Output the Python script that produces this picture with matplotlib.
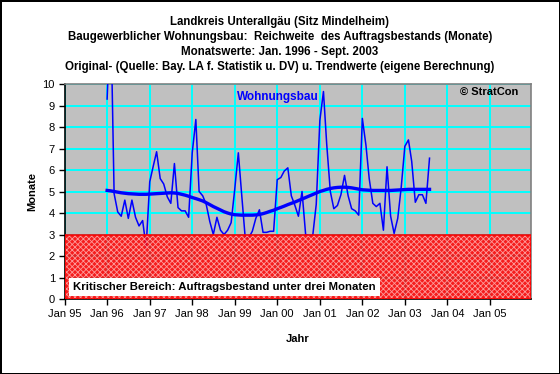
import numpy as np
import pandas as pd
import matplotlib
matplotlib.use("Agg")
import matplotlib.pyplot as plt
import matplotlib.dates as mdates
from datetime import datetime

plt.rcParams["font.family"] = ["Liberation Sans", "DejaVu Sans"]
plt.rcParams["hatch.linewidth"] = 0.6

# monthly values Jan 1996 - Aug 2003
months = pd.date_range("1996-01-01", periods=92, freq="MS")

reichweite = [
    9.3, 13.5, 4.9, 4.05, 3.85, 4.6, 3.75, 4.6, 3.8, 3.4, 3.65, 2.4,      # 1996
    5.45, 6.2, 6.85, 5.6, 5.35, 4.75, 4.45, 6.3, 4.25, 4.1, 4.1, 3.8,     # 1997
    6.8, 8.35, 5.0, 4.8, 4.4, 3.6, 3.0, 3.8, 3.2, 3.0, 3.2, 3.55,         # 1998
    5.1, 6.8, 4.9, 2.85, 2.85, 3.15, 3.75, 4.15, 3.1, 3.1, 3.15, 3.15,    # 1999
    5.55, 5.65, 5.95, 6.1, 4.8, 4.35, 3.85, 5.0, 3.0, 2.95, 2.95, 4.4,    # 2000
    8.3, 9.65, 7.2, 5.0, 4.2, 4.35, 4.85, 5.75, 4.8, 4.2, 4.1, 3.9,       # 2001
    8.4, 7.15, 5.6, 4.45, 4.3, 4.45, 3.2, 6.15, 3.85, 3.05, 3.75, 5.2,    # 2002
    7.1, 7.4, 6.4, 4.5, 4.85, 4.85, 4.45, 6.55,                           # 2003
]

trend = [
    5.05, 5.03, 5.0, 4.97, 4.94, 4.92, 4.9, 4.89, 4.88, 4.87, 4.87, 4.87,
    4.88, 4.89, 4.9, 4.91, 4.92, 4.93, 4.94, 4.93, 4.91, 4.87, 4.83, 4.78,
    4.72, 4.67, 4.62, 4.56, 4.48, 4.39, 4.3, 4.22, 4.14, 4.06, 4.0, 3.95,
    3.92, 3.91, 3.9, 3.9, 3.9, 3.9, 3.91, 3.93, 3.97, 4.02, 4.08, 4.13,
    4.2, 4.26, 4.32, 4.39, 4.45, 4.51, 4.58, 4.65, 4.72, 4.79, 4.86, 4.93,
    5.0, 5.05, 5.1, 5.14, 5.17, 5.19, 5.2, 5.2, 5.19, 5.17, 5.14, 5.11,
    5.08, 5.07, 5.06, 5.05, 5.05, 5.05, 5.05, 5.05, 5.05, 5.06, 5.07, 5.08,
    5.09, 5.1, 5.1, 5.1, 5.1, 5.1, 5.1, 5.1,
]

critical_level = 3

title_lines = [
    "Landkreis Unterallgäu (Sitz Mindelheim)",
    "Baugewerblicher Wohnungsbau:  Reichweite  des Auftragsbestands (Monate)",
    "Monatswerte: Jan. 1996 - Sept. 2003",
    "Original- (Quelle: Bay. LA f. Statistik u. DV) u. Trendwerte (eigene Berechnung)",
]

fig = plt.figure(figsize=(5.6, 3.74), dpi=100, facecolor="white",
                 edgecolor="black", linewidth=2)
ax = fig.add_axes([0.1154, 0.2005, 0.8329, 0.5749])
ax.set_facecolor("#c0c0c0")

# title block
for i, line in enumerate(title_lines):
    fig.text(0.5, 1 - (22 + 15 * i) / 374, line, ha="center", va="center",
             fontsize=8.3, fontweight="bold")

ax.grid(True, color="#00ffff", linewidth=1.4, zorder=1)
ax.set_axisbelow(True)

ax.plot(months, reichweite, color="#0000ff", linewidth=1.1, zorder=3)
ax.plot(months, trend, color="#0000ff", linewidth=2.4, zorder=4)

# critical area below three months
ax.axhspan(0, critical_level, facecolor="#ff0000", edgecolor="#ffb0b0",
           hatch="xxxxxx", linewidth=0, alpha=0.85, zorder=5)
ax.axhspan(0, critical_level, fill=False, edgecolor="#ff0000",
           linewidth=1.2, zorder=6)

ax.text(0.018, 0.056, "Kritischer Bereich: Auftragsbestand unter drei Monaten",
        transform=ax.transAxes, fontsize=8.2, fontweight="bold", va="center",
        ha="left", zorder=7,
        bbox=dict(boxstyle="square,pad=0.35", facecolor="white", edgecolor="none"))
ax.text(0.457, 0.94, "Wohnungsbau", transform=ax.transAxes, color="#0000ff",
        fontsize=8.5, fontweight="bold", ha="center", va="center", zorder=7)
ax.text(0.848, 0.963, "© StratCon", transform=ax.transAxes, fontsize=8,
        fontweight="bold", ha="left", va="center", zorder=7)

ax.set_ylim(0, 10)
ax.set_yticks(range(0, 11))
ax.set_xlim(datetime(1995, 1, 1), datetime(2005, 12, 20))
ax.xaxis.set_major_locator(mdates.YearLocator())
ax.xaxis.set_major_formatter(mdates.DateFormatter("%b %y"))
ax.tick_params(axis="both", labelsize=8, direction="out", length=4,
               width=1, color="black", pad=3)

for side in ["left", "bottom"]:
    ax.spines[side].set_color("black")
    ax.spines[side].set_linewidth(1.2)
for side in ["top", "right"]:
    ax.spines[side].set_color("#808080")
    ax.spines[side].set_linewidth(1.2)

ax.set_xlabel("Jahr", fontsize=8, fontweight="bold", labelpad=11)
ax.set_ylabel("Monate", fontsize=8, fontweight="bold", labelpad=4)

fig.savefig("out.png", dpi=100, facecolor=fig.get_facecolor(),
            edgecolor=fig.get_edgecolor())
